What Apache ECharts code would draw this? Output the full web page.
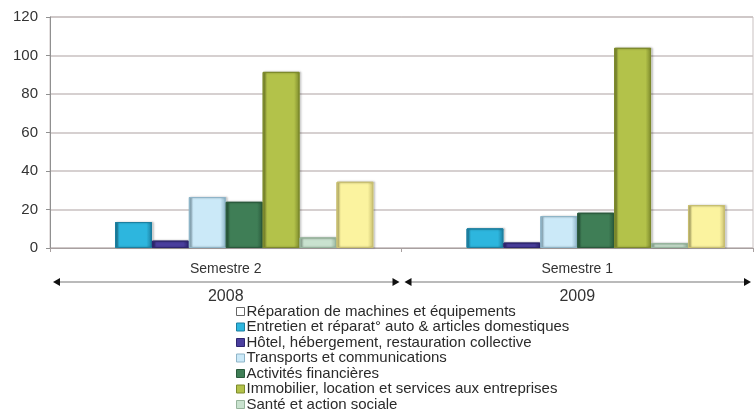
<!DOCTYPE html>
<html>
<head>
<meta charset="utf-8">
<script src="https://cdn.jsdelivr.net/npm/echarts@6/dist/echarts.min.js"></script>
<style>
  html, body { margin: 0; padding: 0; background: #fff; }
  #chart { width: 755px; height: 415px; }
</style>
</head>
<body>
<div id="chart"></div>
<script>
// Data
const semesters = ['Semestre 2', 'Semestre 1'];
const years = ['2008', '2009'];

const seriesNames = [
  'Réparation de machines et équipements',
  'Entretien et réparat° auto & articles domestiques',
  'Hôtel, hébergement, restauration collective',
  'Transports et communications',
  'Activités financières',
  'Immobilier, location et services aux entreprises',
  'Santé et action sociale',
  'Autres services', // legend entry is cut off in the source
];

const reparation   = [0, 0];
const entretien    = [13.5, 10.2];
const hotel        = [3.8, 2.8];
const transports   = [26.5, 16.6];
const financieres  = [24, 18.3];
const immobilier   = [91.5, 104];
const sante        = [5.5, 2.5];
const autres       = [34.4, 22.3];

const yTicks = [0, 20, 40, 60, 80, 100, 120];

// fill, edge
const palette = [
  ['#ffffff', '#666666'],
  ['#2db6de', '#1c7fa0'],
  ['#4a3e9e', '#2e2670'],
  ['#cbe9f8', '#8fb5c8'],
  ['#3f7e56', '#2a5a3c'],
  ['#b3c24a', '#7d8a2c'],
  ['#c9e2cf', '#96b49c'],
  ['#fbf39f', '#c8bf70'],
];

const allValues = [reparation, entretien, hotel, transports, financieres, immobilier, sante, autres];

const FONT = '"Liberation Sans", Arial, sans-serif';

// fake the bevelled look of the original bars
function bevel(fill, edge) {
  return {
    type: 'linear', x: 0, y: 0, x2: 1, y2: 0,
    colorStops: [
      { offset: 0, color: edge },
      { offset: 0.12, color: fill },
      { offset: 0.85, color: fill },
      { offset: 1, color: edge },
    ],
  };
}

const chart = echarts.init(document.getElementById('chart'), null, { renderer: 'canvas' });

chart.setOption({
  animation: false,
  textStyle: { fontFamily: FONT },
  grid: {
    left: 50, right: 2, top: 17, bottom: 167,
    show: true, borderColor: '#c9c1c1', borderWidth: 1,
  },
  legend: {
    orient: 'vertical',
    left: 236, top: 304,
    padding: 0,
    itemWidth: 8, itemHeight: 8, itemGap: 0.5,
    icon: 'rect',
    data: seriesNames.slice(0, 7).map((name, i) => ({
      name,
      itemStyle: {
        color: palette[i][0],
        borderColor: palette[i][1],
        borderWidth: 1,
        shadowBlur: 0, shadowOffsetX: 0,
      },
    })),
    textStyle: { fontFamily: FONT, fontSize: 15, color: '#2a2a2a', lineHeight: 15, padding: [0, 0, 0, -3] },
  },
  xAxis: {
    type: 'category',
    data: semesters,
    axisLine: { lineStyle: { color: '#a8a0a0' } },
    axisTick: { show: true, length: 4, lineStyle: { color: '#a8a0a0' } },
    axisLabel: {
      margin: 8,
      formatter: (v, i) => `{s|${v}}\n{y|${years[i]}}`,
      rich: {
        s: { fontFamily: FONT, fontSize: 14, color: '#333', lineHeight: 27 },
        y: { fontFamily: FONT, fontSize: 16, color: '#333', lineHeight: 28 },
      },
    },
  },
  yAxis: {
    type: 'value',
    min: yTicks[0], max: yTicks[yTicks.length - 1], interval: 20,
    axisLine: { show: true, lineStyle: { color: '#909090' } },
    axisTick: { show: true, length: 4, lineStyle: { color: '#909090' } },
    axisLabel: { fontFamily: FONT, fontSize: 15, color: '#333', margin: 12 },
    splitLine: { lineStyle: { color: '#c9c1c1', width: 1.5 } },
  },
  series: seriesNames.map((name, i) => ({
    name,
    type: 'bar',
    data: allValues[i],
    barGap: '0%',
    barCategoryGap: '16%',
    itemStyle: i === 0 ? { color: '#ffffff', borderWidth: 0 } : {
      color: bevel(palette[i][0], palette[i][1]),
      borderColor: palette[i][1],
      borderWidth: 1,
      shadowColor: 'rgba(0,0,0,0.35)',
      shadowOffsetX: 1.5,
      shadowBlur: 2,
    },
  })),
});

// Group arrows under the category labels
function drawArrows() {
  const c0 = chart.convertToPixel({ xAxisIndex: 0 }, semesters[0]);
  const c1 = chart.convertToPixel({ xAxisIndex: 0 }, semesters[1]);
  const band = c1 - c0;
  const y = 282;
  const els = [];
  [c0, c1].forEach(c => {
    const x1 = c - band / 2 + 3;
    const x2 = c + band / 2 - 2;
    els.push({
      type: 'line',
      shape: { x1: x1 + 6, y1: y, x2: x2 - 6, y2: y },
      style: { stroke: '#777', lineWidth: 1.2 },
    });
    els.push({
      type: 'polygon',
      shape: { points: [[x1, y], [x1 + 7, y - 4], [x1 + 7, y + 4]] },
      style: { fill: '#111' },
    });
    els.push({
      type: 'polygon',
      shape: { points: [[x2, y], [x2 - 7, y - 4], [x2 - 7, y + 4]] },
      style: { fill: '#111' },
    });
  });
  chart.setOption({ graphic: els });
}
drawArrows();
</script>
</body>
</html>
